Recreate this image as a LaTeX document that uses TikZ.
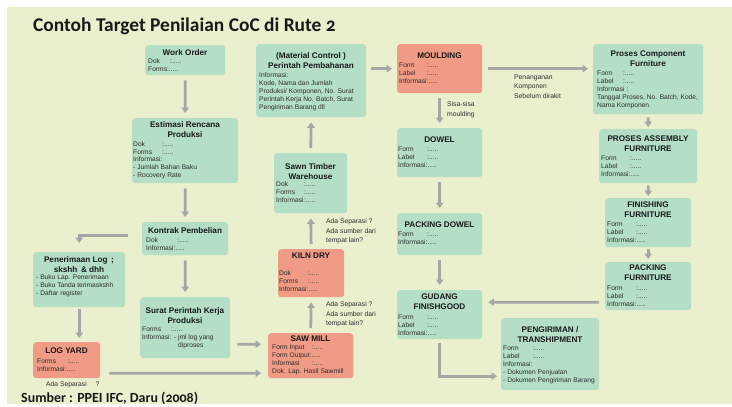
\documentclass[tikz,border=0pt]{standalone}
\usepackage{fontspec}
\setmainfont{Liberation Sans}
\newfontfamily\headfont[Numbers=OldStyle]{Carlito}
\usetikzlibrary{arrows.meta,calc}

\definecolor{panel}{RGB}{234,240,206}
\definecolor{boxgreen}{RGB}{180,222,198}
\definecolor{boxred}{RGB}{239,155,134}
\definecolor{arrowgray}{RGB}{166,166,166}
\definecolor{ink}{RGB}{25,25,25}
\definecolor{bodyink}{RGB}{45,45,45}

% fixed-width label before a colon
\newcommand\fld[2]{\makebox[#1bp][l]{#2}}

\tikzset{
  gbox/.style={fill=boxgreen, rounded corners=3bp, anchor=north west, inner sep=0pt, draw=none},
  rbox/.style={gbox, fill=boxred},
  ttl/.style={font=\bfseries\fontsize{8.2}{10}\selectfont, text=ink, align=center, anchor=north, inner sep=0pt},
  body/.style={font=\fontsize{6.7}{8}\selectfont, text=bodyink, align=left, anchor=north west, inner sep=0pt},
  note/.style={font=\fontsize{6.8}{9.5}\selectfont, text=bodyink, align=left, anchor=north west, inner sep=0pt},
  arr/.style={draw=arrowgray, line width=2.8bp, -{Triangle[width=7.5bp,length=5.5bp]}, shorten <=5bp, shorten >=5bp},
}

\begin{document}
\begin{tikzpicture}[x=1bp,y=-1bp]
\useasboundingbox (0,0) rectangle (732,406);
\fill[white] (0,0) rectangle (732,406);
\fill[panel] (7,7) rectangle (732,404);

% heading and source line
\node[font=\headfont\bfseries\fontsize{19.5}{22}\selectfont, text=ink, anchor=base west, inner sep=0pt] (head) at (33,31.5) {Contoh Target Penilaian CoC di Rute 2};
\node[font=\headfont\bfseries\fontsize{14}{16}\selectfont, text=ink, anchor=base west, inner sep=0pt] (src) at (21,402) {Sumber : PPEI IFC, Daru (2008)};

% ---- boxes ----
\node[gbox, minimum width=80bp, minimum height=30bp] (wo) at (145,45) {};
\node[ttl] (wo-t) at (185,49) {Work Order};
\node[body] (wo-b) at (148,58.6) {\fld{22}{Dok}:.....\\Forms:.....};

\node[gbox, minimum width=106bp, minimum height=65bp] (erp) at (132,118) {};
\node[ttl] (erp-t) at (185,121) {Estimasi Rencana\\Produksi};
\node[body] (erp-b) at (133,141) {\fld{29}{Dok}:.....\\\fld{29}{Forms}:.....\\Informasi:\\- Jumlah Bahan Baku\\- Rocovery Rate};

\node[gbox, minimum width=110bp, minimum height=73bp] (mc) at (256,44) {};
\node[ttl] (mc-t) at (311,52) {(Material Control )\\Perintah Pembahanan};
\node[body] (mc-b) at (259,72.6) {Informasi:\\Kode, Nama dan Jumlah\\Produksi/ Komponen, No. Surat\\Perintah Kerja No. Batch, Surat\\Pengiriman Barang dll};

\node[gbox, minimum width=73bp, minimum height=60bp] (stw) at (274,153) {};
\node[ttl] (stw-t) at (310.5,163) {Sawn Timber\\Warehouse};
\node[body] (stw-b) at (276,181.6) {\fld{28}{Dok}:.....\\\fld{28}{Forms}:.....\\\fld{28}{Informasi}:.....};

\node[rbox, minimum width=66bp, minimum height=48bp] (kd) at (278,249) {};
\node[ttl] (kd-t) at (311,253) {KILN DRY};
\node[body] (kd-b) at (279,270.6) {\fld{29}{Dok}:.....\\\fld{29}{Forms}:.....\\Informasi:.....};

\node[rbox, minimum width=85bp, minimum height=45bp] (sm) at (268,333) {};
\node[ttl] (sm-t) at (310.5,336) {SAW MILL};
\node[body] (sm-b) at (272,344.6) {\fld{40}{Form Input}:.....\\Form Output:.....\\\fld{40}{Informasi}:.....\\Dok. Lap. Hasil Sawmill};

\node[rbox, minimum width=85bp, minimum height=49bp] (ml) at (397,44) {};
\node[ttl] (ml-t) at (439.5,53) {MOULDING};
\node[body] (ml-b) at (399,62.6) {\fld{28}{Form}:.....\\\fld{28}{Label}:.....\\Informasi:.....};

\node[gbox, minimum width=85bp, minimum height=49bp] (dw) at (397,128) {};
\node[ttl] (dw-t) at (439.5,137) {DOWEL};
\node[body] (dw-b) at (398,146.6) {\fld{29}{Form}:.....\\\fld{29}{Label}:.....\\Informasi:.....};

\node[gbox, minimum width=85bp, minimum height=42bp] (pd) at (397,213) {};
\node[ttl] (pd-t) at (439.5,222) {PACKING DOWEL};
\node[body] (pd-b) at (398,231.6) {\fld{29}{Form}:.....\\Informasi:.....};

\node[gbox, minimum width=85bp, minimum height=49bp] (gf) at (397,290) {};
\node[ttl] (gf-t) at (439.5,294) {GUDANG\\FINISHGOOD};
\node[body] (gf-b) at (398,314.6) {\fld{29}{Form}:.....\\\fld{29}{Label}:.....\\Informasi:.....};

\node[gbox, minimum width=98bp, minimum height=72bp] (pg) at (501,318) {};
\node[ttl] (pg-t) at (550,326) {PENGIRIMAN /\\TRANSHIPMENT};
\node[body] (pg-b) at (503,345.6) {\fld{30}{Form}:.....\\\fld{30}{Label}:.....\\Informasi:\\- Dokumen Penjualan\\- Dokumen Pengiriman Barang};

\node[gbox, minimum width=110bp, minimum height=70bp] (pc) at (593,44) {};
\node[ttl] (pc-t) at (648,51) {Proses Component\\Furniture};
\node[body] (pc-b) at (597,70.6) {\fld{26}{Form}:.....\\\fld{26}{Label}:.....\\Informasi :\\Tanggal Proses, No. Batch, Kode,\\Nama Komponen};

\node[gbox, minimum width=98bp, minimum height=54bp] (pa) at (599,129) {};
\node[ttl] (pa-t) at (648,136) {PROSES ASSEMBLY\\FURNITURE};
\node[body] (pa-b) at (601,155.6) {\fld{29}{Form}:.....\\\fld{29}{Label}:.....\\Informasi:.....};

\node[gbox, minimum width=86bp, minimum height=49bp] (ff) at (605,198) {};
\node[ttl] (ff-t) at (648,202) {FINISHING\\FURNITURE};
\node[body] (ff-b) at (607,221.6) {\fld{29}{Form}:.....\\\fld{29}{Label}:.....\\Informasi:.....};

\node[gbox, minimum width=86bp, minimum height=48bp] (pf) at (605,262) {};
\node[ttl] (pf-t) at (648,265) {PACKING\\FURNITURE};
\node[body] (pf-b) at (607,285.6) {\fld{29}{Form}:.....\\\fld{29}{Label}:.....\\Informasi:.....};

\node[gbox, minimum width=86bp, minimum height=33bp] (kp) at (142,222) {};
\node[ttl] (kp-t) at (185,227) {Kontrak Pembelian};
\node[body] (kp-b) at (146,237.6) {\fld{31}{Dok}:.....\\Informasi:.....};

\node[gbox, minimum width=92bp, minimum height=55bp] (pl) at (33,252) {};
\node[ttl] (pl-t) at (79,256) {Penerimaan Log \,;\\skshh \,\& dhh};
\node[body] (pl-b) at (36,274.6) {- Buku Lap. Penerimaan\\- Buku Tanda terimaskshh\\- Daftar register};

\node[gbox, minimum width=90bp, minimum height=61bp] (sp) at (140,297) {};
\node[ttl] (sp-t) at (185,307) {Surat Perintah Kerja\\Produksi};
\node[body] (sp-b) at (142,326.6) {\fld{29}{Forms}:.....\\Informasi: - jml log yang\\\hspace*{36bp}diproses};

\node[rbox, minimum width=67bp, minimum height=36bp] (ly) at (33,342) {};
\node[ttl] (ly-t) at (66.5,348) {LOG YARD};
\node[body] (ly-b) at (37,358.6) {\fld{31}{Forms}:.....\\Informasi:.....};

% ---- free notes ----
\node[note] (n-sisa) at (447,101.5) {Sisa-sisa\\moulding};
\node[note] (n-pen) at (514,74.5) {Penanganan\\Komponen\\Sebelum dirakit};
\node[note] (n-kd) at (326,218.5) {Ada Separasi ?\\Ada sumber dari\\tempat lain?};
\node[note] (n-sm) at (326,301.5) {Ada Separasi ?\\Ada sumber dari\\tempat lain?};
\node[note] (n-ly) at (46,381.5) {Ada Separasi \quad ?};

% ---- connectors ----
\draw[arr] (wo) -- (erp);
\draw[arr] (erp.south) -- (kp.north);
\draw[arr] (kp.south) -- (sp.north);
\draw[arr, shorten <=14bp, shorten >=9bp] ([yshift=3.5bp]kp.west) -| (pl.north);
\draw[arr, shorten <=2bp, shorten >=4bp] (pl.south) -- (pl.south |- ly.north);
\draw[arr, shorten <=7bp, shorten >=7bp] ([yshift=-16.5bp]sp.east) -- ([yshift=11.5bp]sm.west);
\draw[arr, shorten <=9bp, shorten >=7bp] ([yshift=-13bp]ly.east) -- ([yshift=-17.5bp]sm.west);
\draw[arr] (sm.north) -- (kd.south);
\draw[arr] (kd.north) -- (stw.south);
\draw[arr] (stw.north) -- (mc.south);
\draw[arr] (mc.east |- ml.west) -- (ml.west);
\draw[arr] (ml.south) -- (dw.north);
\draw[arr] (dw.south) -- (pd.north);
\draw[arr] (pd.south) -- (gf.north);
\draw[arr, shorten <=6bp] (ml.east) -- (ml.east -| pc.west);
\draw[arr, shorten <=3bp, shorten >=2bp] (pc.south) -- (pa.north);
\draw[arr, shorten <=2bp, shorten >=2bp] (pa.south) -- (ff.north);
\draw[arr, shorten <=2bp, shorten >=3bp] (ff.south) -- (pf.north);
\draw[arr, shorten <=6bp, shorten >=6bp] ([yshift=-16bp]pf.west) -- ([yshift=12.5bp]gf.east);
\draw[arr, shorten <=4bp, shorten >=4bp] (gf.south) |- ([yshift=-22bp]pg.west);
\end{tikzpicture}
\end{document}
